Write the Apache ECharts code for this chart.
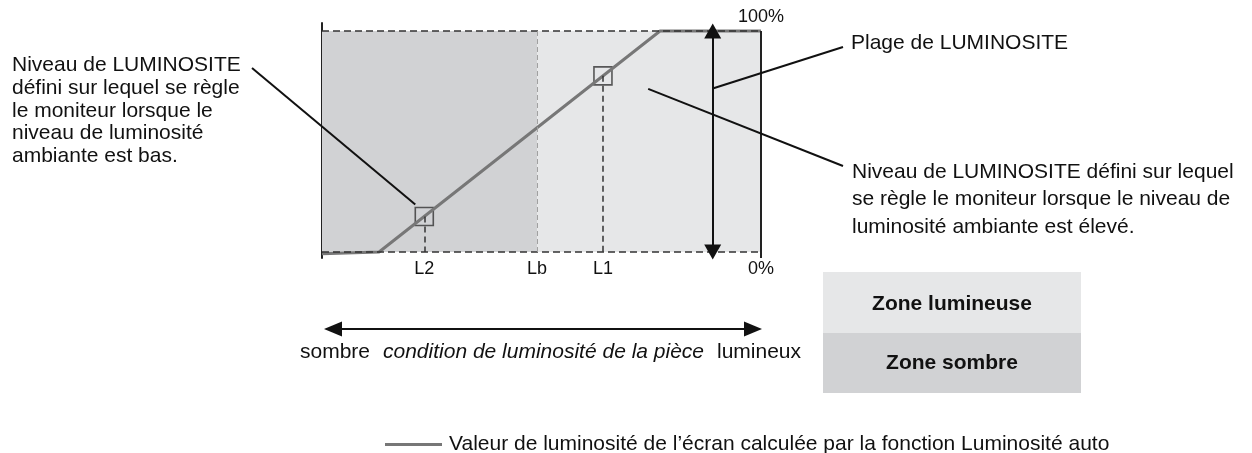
<!DOCTYPE html>
<html>
<head>
<meta charset="utf-8">
<script src="https://cdn.jsdelivr.net/npm/echarts@6/dist/echarts.min.js"></script>
<style>
  html, body { margin: 0; padding: 0; background: #ffffff; }
  #chart { width: 1252px; height: 453px; }
</style>
</head>
<body>
<div id="chart"></div>
<script>
// Auto-brightness response: screen brightness versus room light level.
const curveX = [0, 13, 77, 100];
const curveY = [-0.8, 0, 100, 100];

// Set points L2 (dark room) and L1 (bright room) on the response curve
const levelX = [23.3, 64];
const levelY = [16.1, 79.7];

// Boundary between the dark and bright zones (Lb) and the range arrow position
const boundaryX = 49;
const rangeX = 89;

// Axis tick labels
const tickValues = [23.3, 49, 64, 100];
const tickLabels = ['L2', 'Lb', 'L1', '0%'];
const topTickValues = [100];
const topTickLabels = ['100%'];

// Zones shown as shaded bands and in the key box
const zoneNames = ['Zone lumineuse', 'Zone sombre'];
const zoneColors = ['#e6e7e8', '#d1d2d4'];

const seriesName = 'Valeur de luminosité de l’écran calculée par la fonction Luminosité auto';

// Points in data space that the callout lines point at
const rangePointer = [rangeX, 74];
const highPointer = [74.3, 73.8];

const Y_MIN = -2.7, Y_MAX = 103.6;
const FONT = '"Liberation Sans", Arial, Helvetica, sans-serif';
const INK = '#111111';
const CURVE = '#777777';

const chart = echarts.init(document.getElementById('chart'), null, { renderer: 'canvas' });

const dashed = (color, width, dash) => ({ color, width, type: dash });

chart.setOption({
  animation: false,
  backgroundColor: '#ffffff',
  textStyle: { fontFamily: FONT },
  grid: { left: 322, right: 491, top: 23, bottom: 195, containLabel: false },
  legend: {
    data: [seriesName],
    left: 380,
    top: 429,
    icon: 'rect',
    itemWidth: 57,
    itemHeight: 3,
    itemStyle: { color: CURVE },
    textStyle: { fontSize: 21, color: INK, fontFamily: FONT, padding: [0, 0, 0, 2] },
    selectedMode: false
  },
  xAxis: [
    {
      type: 'value', min: 0, max: 100, position: 'bottom',
      axisLine: { show: false }, axisTick: { show: false }, splitLine: { show: false },
      axisLabel: {
        customValues: tickValues,
        formatter: v => tickLabels[tickValues.indexOf(v)],
        fontSize: 18, color: INK, margin: 2, fontFamily: FONT
      }
    },
    {
      type: 'value', min: 0, max: 100, position: 'top',
      axisLine: { show: false }, axisTick: { show: false }, splitLine: { show: false },
      axisLabel: {
        customValues: topTickValues,
        formatter: v => topTickLabels[topTickValues.indexOf(v)],
        fontSize: 18, color: INK, margin: -3, fontFamily: FONT
      }
    }
  ],
  yAxis: {
    type: 'value', min: Y_MIN, max: Y_MAX,
    axisLine: { show: true, lineStyle: { color: '#222', width: 2 } },
    axisTick: { show: false }, axisLabel: { show: false }, splitLine: { show: false }
  },
  series: [
    {
      // shaded zones and guide lines
      name: 'guides', type: 'line', data: [], silent: true, z: 1,
      markArea: {
        silent: true,
        label: { show: false },
        data: [
          [{ xAxis: 0, yAxis: 0, itemStyle: { color: zoneColors[1] } }, { xAxis: boundaryX, yAxis: 100 }],
          [{ xAxis: boundaryX, yAxis: 0, itemStyle: { color: zoneColors[0] } }, { xAxis: 100, yAxis: 100 }]
        ]
      },
      markLine: {
        silent: true, symbol: ['none', 'none'], label: { show: false },
        data: [
          [{ coord: [0, 100], lineStyle: dashed('#333', 1.5, [7, 4]) }, { coord: [100, 100] }],
          [{ coord: [0, 0], lineStyle: dashed('#333', 1.5, [7, 4]) }, { coord: [100, 0] }],
          [{ coord: [boundaryX, 0], lineStyle: dashed('#a0a0a0', 1, [5, 3]) }, { coord: [boundaryX, 100] }],
          [{ coord: [levelX[0], levelY[0]], lineStyle: dashed('#333', 1.5, [6, 4]) }, { coord: [levelX[0], 0] }],
          [{ coord: [levelX[1], levelY[1]], lineStyle: dashed('#333', 1.5, [6, 4]) }, { coord: [levelX[1], 0] }],
          [{ coord: [100, 100], lineStyle: { color: '#222', width: 2, type: 'solid' } }, { coord: [100, Y_MIN] }]
        ]
      }
    },
    {
      // LUMINOSITE range double arrow
      name: 'range', type: 'line', data: [], silent: true, z: 5,
      markLine: {
        silent: true,
        symbol: ['triangle', 'triangle'],
        symbolSize: [17, 15],
        label: { show: false },
        lineStyle: { color: '#111', width: 2, type: 'solid' },
        data: [[{ coord: [rangeX, 0] }, { coord: [rangeX, 100] }]]
      }
    },
    {
      name: 'levels', type: 'scatter', z: 3, silent: true,
      symbol: 'rect', symbolSize: 18,
      data: levelX.map((x, i) => ({
        value: [x, levelY[i]],
        itemStyle: { color: x < boundaryX ? zoneColors[1] : zoneColors[0] }
      })),
      itemStyle: { borderColor: '#333', borderWidth: 1.6 }
    },
    {
      name: seriesName, type: 'line', z: 4, silent: true,
      symbol: 'none',
      data: curveX.map((x, i) => [x, curveY[i]]),
      lineStyle: { color: CURVE, width: 3 },
      itemStyle: { color: CURVE }
    }
  ]
});

// Callouts, captions and the zone key
const px = p => chart.convertToPixel({ gridIndex: 0 }, p);
const pL2 = px([levelX[0], levelY[0]]);
const pRange = px(rangePointer);
const pHigh = px(highPointer);
const pLeft = px([0, 0]);
const pRight = px([100, 0]);

const arrowY = 329;
const head = 18, half = 7.5;
const Z = 100;

const text = (str, x, y, extra) => ({
  type: 'text', silent: true, z: Z,
  style: Object.assign({ text: str, x, y, fill: INK, font: '21px ' + FONT }, extra || {})
});
const seg = (x1, y1, x2, y2, w) => ({
  type: 'line', silent: true, z: Z,
  shape: { x1, y1, x2, y2 },
  style: { stroke: '#111', lineWidth: w || 2 }
});
const tri = pts => ({ type: 'polygon', silent: true, z: Z, shape: { points: pts }, style: { fill: '#111' } });

chart.setOption({
  graphic: [
    // left callout
    seg(252, 68, pL2[0] - 9, pL2[1] - 12),
    text('Niveau de LUMINOSITE\ndéfini sur lequel se règle\nle moniteur lorsque le\nniveau de luminosité\nambiante est bas.', 12, 54,
      { lineHeight: 22.7, verticalAlign: 'top' }),
    // range callout
    seg(843, 47, pRange[0], pRange[1]),
    text('Plage de LUMINOSITE', 851, 43, { verticalAlign: 'middle' }),
    // bright-room callout
    seg(843, 166, pHigh[0], pHigh[1]),
    text('Niveau de LUMINOSITE défini sur lequel\nse règle le moniteur lorsque le niveau de\nluminosité ambiante est élevé.', 852, 158,
      { lineHeight: 27.5, verticalAlign: 'top' }),
    // room light direction arrow
    seg(pLeft[0] + head, arrowY, pRight[0] + 1 - head + 2, arrowY),
    tri([[pLeft[0] + 2, arrowY], [pLeft[0] + 2 + head, arrowY - half], [pLeft[0] + 2 + head, arrowY + half]]),
    tri([[pRight[0] + 1, arrowY], [pRight[0] + 1 - head, arrowY - half], [pRight[0] + 1 - head, arrowY + half]]),
    text('sombre', 335, 352, { align: 'center', verticalAlign: 'middle' }),
    text('condition de luminosité de la pièce', 383, 352, { verticalAlign: 'middle', font: 'italic 21px ' + FONT }),
    text('lumineux', 717, 352, { verticalAlign: 'middle' }),
    // zone key
    { type: 'rect', silent: true, z: Z, shape: { x: 823, y: 272, width: 258, height: 61 }, style: { fill: zoneColors[0] } },
    { type: 'rect', silent: true, z: Z, shape: { x: 823, y: 333, width: 258, height: 60 }, style: { fill: zoneColors[1] } },
    text(zoneNames[0], 952, 304, { align: 'center', verticalAlign: 'middle', font: 'bold 21px ' + FONT }),
    text(zoneNames[1], 952, 363, { align: 'center', verticalAlign: 'middle', font: 'bold 21px ' + FONT })
  ]
});
</script>
</body>
</html>
